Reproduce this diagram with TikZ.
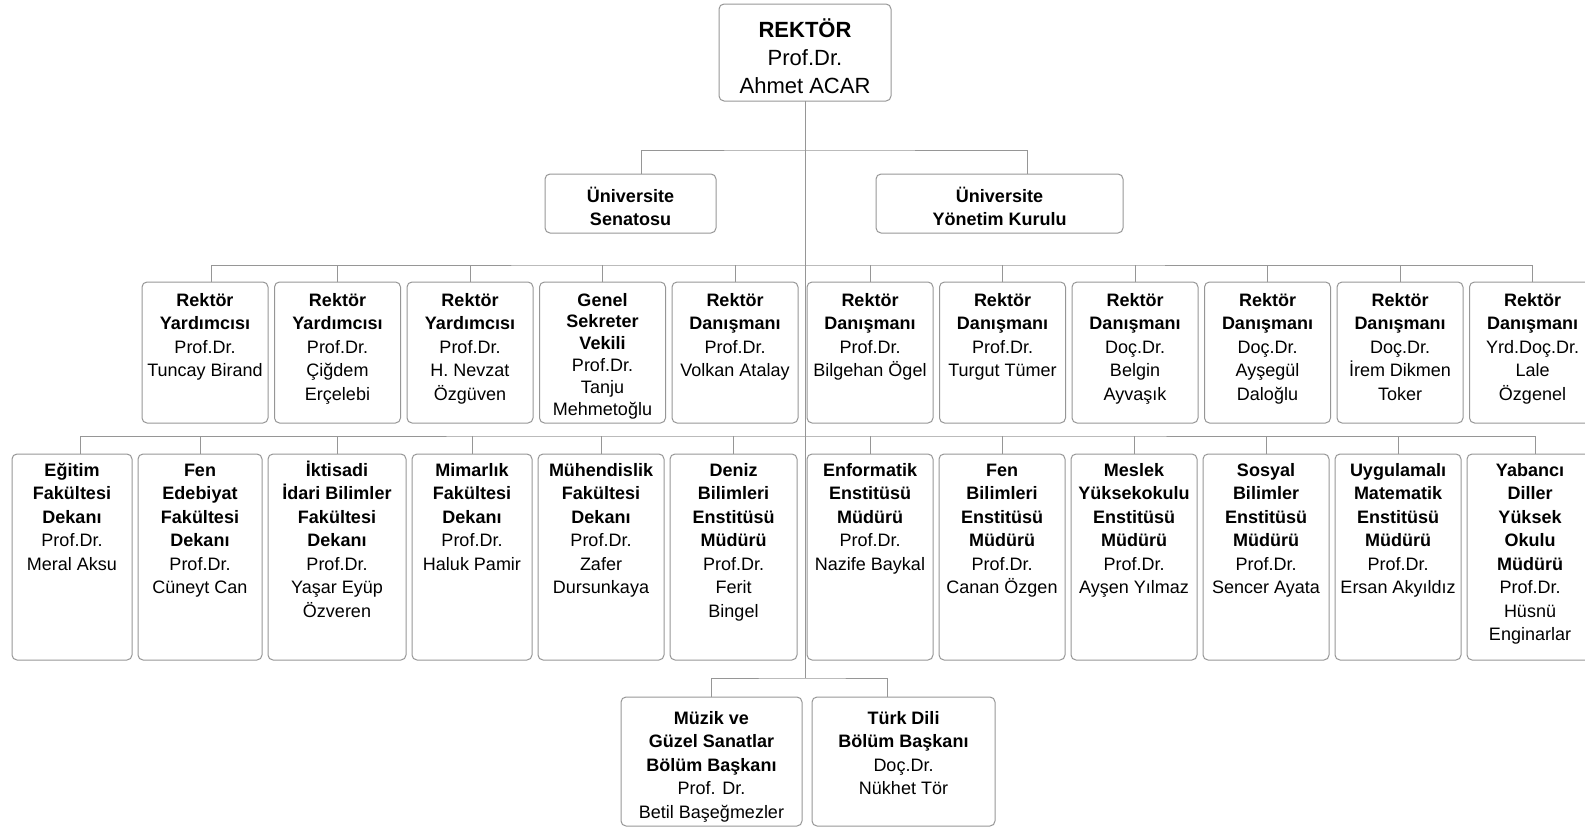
\documentclass[tikz,border=0pt]{standalone}
\usepackage{fontspec}
\setmainfont{Liberation Sans}
\usetikzlibrary{positioning}
\definecolor{linegray}{RGB}{150,150,150}

\begin{document}
\begin{tikzpicture}[x=1pt,y=-1pt,line width=1pt]
  \tikzset{unitbox/.style n args={3}{draw=linegray,rounded corners=5pt,inner sep=0pt,outer sep=0pt,
      font=\fontsize{18}{23.5}\selectfont,
      execute at begin node={\begin{minipage}[c][#2][t]{#1}\centering\rule{0pt}{#3}},
      execute at end node={\end{minipage}}},
    upper/.style={unitbox={126pt}{141pt}{24pt}},
    lower/.style={unitbox={#1}{206pt}{22pt}},
    bottom/.style={unitbox={#1}{129pt}{27pt}}}
  \useasboundingbox (0,0) rectangle (1585,827);

  % rector
  \node[unitbox={172pt}{97pt}{33pt},font=\fontsize{22}{28}\selectfont,anchor=north west] (rektor) at (719,4)
    {{\bfseries REKTÖR}\\Prof.Dr.\\Ahmet ACAR};

  % boards
  \node[unitbox={171pt}{59pt}{28pt},anchor=north west] (senato) at (545,174) {\bfseries Üniversite\\Senatosu};
  \node[unitbox={247pt}{59pt}{28pt},anchor=north west] (yonetim) at (876,174) {\bfseries Üniversite\\Yönetim Kurulu};

  % vice rectors, secretary, advisers
  \node[upper,anchor=north west] (a1) at (142,282) {{\bfseries Rektör\\Yardımcısı}\\Prof.Dr.\\Tuncay Birand};
  \node[upper,right=6.5pt of a1] (a2) {{\bfseries Rektör\\Yardımcısı}\\Prof.Dr.\\Çiğdem\\Erçelebi};
  \node[upper,right=6.5pt of a2] (a3) {{\bfseries Rektör\\Yardımcısı}\\Prof.Dr.\\H. Nevzat\\Özgüven};
  \node[upper,right=6.5pt of a3,font=\fontsize{18}{21.8}\selectfont] (a4) {{\bfseries Genel\\Sekreter\\Vekili}\\Prof.Dr.\\Tanju\\Mehmetoğlu};
  \node[upper,right=6.5pt of a4] (a5) {{\bfseries Rektör\\Danışmanı}\\Prof.Dr.\\Volkan Atalay};
  \node[upper,right=9pt of a5] (a6) {{\bfseries Rektör\\Danışmanı}\\Prof.Dr.\\Bilgehan Ögel};
  \node[upper,right=6.5pt of a6] (a7) {{\bfseries Rektör\\Danışmanı}\\Prof.Dr.\\Turgut Tümer};
  \node[upper,right=6.5pt of a7] (a8) {{\bfseries Rektör\\Danışmanı}\\Doç.Dr.\\Belgin\\Ayvaşık};
  \node[upper,right=6.5pt of a8] (a9) {{\bfseries Rektör\\Danışmanı}\\Doç.Dr.\\Ayşegül\\Daloğlu};
  \node[upper,right=6.5pt of a9] (a10) {{\bfseries Rektör\\Danışmanı}\\Doç.Dr.\\İrem Dikmen\\Toker};
  \node[upper,right=6.5pt of a10] (a11) {{\bfseries Rektör\\Danışmanı}\\Yrd.Doç.Dr.\\Lale\\Özgenel};

  % deans and directors
  \node[lower=120pt,anchor=north west] (b1) at (12,454) {{\bfseries Eğitim\\Fakültesi\\Dekanı}\\Prof.Dr.\\Meral Aksu};
  \node[lower=124pt,right=6pt of b1] (b2) {{\bfseries Fen\\Edebiyat\\Fakültesi\\Dekanı}\\Prof.Dr.\\Cüneyt Can};
  \node[lower=138pt,right=6pt of b2] (b3) {{\bfseries İktisadi\\İdari Bilimler\\Fakültesi\\Dekanı}\\Prof.Dr.\\Yaşar Eyüp\\Özveren};
  \node[lower=120pt,right=6pt of b3] (b4) {{\bfseries Mimarlık\\Fakültesi\\Dekanı}\\Prof.Dr.\\Haluk Pamir};
  \node[lower=126pt,right=6pt of b4] (b5) {{\bfseries Mühendislik\\Fakültesi\\Dekanı}\\Prof.Dr.\\Zafer\\Dursunkaya};
  \node[lower=127pt,right=6pt of b5] (b6) {{\bfseries Deniz\\Bilimleri\\Enstitüsü\\Müdürü}\\Prof.Dr.\\Ferit\\Bingel};
  \node[lower=126pt,right=10pt of b6] (b7) {{\bfseries Enformatik\\Enstitüsü\\Müdürü}\\Prof.Dr.\\Nazife Baykal};
  \node[lower=126pt,right=6pt of b7] (b8) {{\bfseries Fen\\Bilimleri\\Enstitüsü\\Müdürü}\\Prof.Dr.\\Canan Özgen};
  \node[lower=126pt,right=6pt of b8] (b9) {{\bfseries Meslek\\Yüksekokulu\\Enstitüsü\\Müdürü}\\Prof.Dr.\\Ayşen Yılmaz};
  \node[lower=126pt,right=6pt of b9] (b10) {{\bfseries Sosyal\\Bilimler\\Enstitüsü\\Müdürü}\\Prof.Dr.\\Sencer Ayata};
  \node[lower=126pt,right=6pt of b10] (b11) {{\bfseries Uygulamalı\\Matematik\\Enstitüsü\\Müdürü}\\Prof.Dr.\\Ersan Akyıldız};
  \node[lower=126pt,right=6pt of b11] (b12) {{\bfseries Yabancı\\Diller\\Yüksek\\Okulu\\Müdürü}\\Prof.Dr.\\Hüsnü\\Enginarlar};

  % department heads
  \node[bottom=181pt,anchor=north west] (c1) at (621,697) {{\bfseries Müzik ve\\Güzel Sanatlar\\Bölüm Başkanı}\\Prof. Dr.\\Betil Başeğmezler};
  \node[bottom=183pt,right=10pt of c1] (c2) {{\bfseries Türk Dili\\Bölüm Başkanı}\\Doç.Dr.\\Nükhet Tör};

  % lines
  \coordinate (bus1) at (805,150);
  \coordinate (bus3) at (805,265);
  \coordinate (bus4) at (805,436);
  \coordinate (bus5) at (805,678);
  \draw[linegray] (rektor.south) -- (bus5);
  \draw[linegray] ([xshift=10.5pt]senato.north) |- (bus1) -| ([xshift=27.5pt]yonetim.north);
  \draw[linegray] ([xshift=6pt]a1.north) |- (bus3) -| (a11.north);
  \foreach \n in {a2,a3,a4,a5,a6,a7,a8,a9,a10}
    \draw[linegray] (\n.north) -- (\n.north |- bus3);
  \draw[linegray] ([xshift=8pt]b1.north) |- (bus4) -| ([xshift=5pt]b12.north);
  \foreach \n in {b2,b3,b4,b5,b6,b7,b8,b9,b10,b11}
    \draw[linegray] (\n.north) -- (\n.north |- bus4);
  \draw[linegray] (c1.north) |- (bus5) -| ([xshift=-16.5pt]c2.north);

\end{tikzpicture}
\end{document}
